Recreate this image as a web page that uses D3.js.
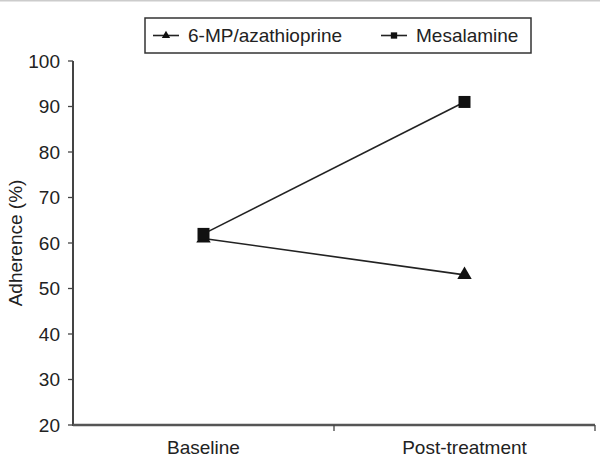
<!DOCTYPE html>
<html><head><meta charset="utf-8">
<script src="https://cdn.jsdelivr.net/npm/d3@7"></script>
<style>body{margin:0;background:#fff;}svg{display:block;font-family:"Liberation Sans",Arial,Helvetica,sans-serif;}</style>
</head><body>
<script>
const categories = ["Baseline", "Post-treatment"];
const azaValues = [61, 53];
const mesaValues = [62, 91];
const seriesNames = ["6-MP/azathioprine", "Mesalamine"];
const yTicks = [20, 30, 40, 50, 60, 70, 80, 90, 100];

const W = 600, H = 457;
const m = {left: 73, right: 5, top: 61, bottom: 32};
const svg = d3.select("body").append("svg").attr("width", W).attr("height", H);

svg.append("line").attr("x1", 0).attr("x2", W).attr("y1", 0.5).attr("y2", 0.5)
  .attr("stroke", "#ccc").attr("stroke-width", 2);

const x = d3.scaleBand().domain(categories).range([m.left, W - m.right]).padding(0);
const y = d3.scaleLinear().domain([20, 100]).range([H - m.bottom, m.top]);
const ink = "#222";
const fs = 19;

// y axis
const ya = svg.append("g").attr("transform", `translate(${m.left},0)`);
ya.append("line").attr("x1", 0).attr("x2", 0).attr("y1", y(20) + 1).attr("y2", y(100)).attr("stroke", "#444").attr("stroke-width", 2);
yTicks.forEach(t => {
  ya.append("line").attr("x1", -5).attr("x2", 0).attr("y1", y(t)).attr("y2", y(t)).attr("stroke", "#444").attr("stroke-width", 1.3);
  ya.append("text").attr("x", -13).attr("y", y(t)).attr("dy", "0.36em").attr("text-anchor", "end")
    .attr("font-size", fs).attr("fill", ink).text(t);
});

// x axis
const xa = svg.append("g");
xa.append("line").attr("x1", m.left).attr("x2", W - m.right).attr("y1", y(20)).attr("y2", y(20)).attr("stroke", "#555").attr("stroke-width", 2.5);
categories.forEach(c => {
  const e = x(c) + x.bandwidth();
  xa.append("line").attr("x1", e).attr("x2", e).attr("y1", y(20)).attr("y2", y(20) + 6).attr("stroke", "#444").attr("stroke-width", 1.3);
  xa.append("text").attr("x", x(c) + x.bandwidth() / 2).attr("y", y(20) + 29).attr("text-anchor", "middle")
    .attr("font-size", fs).attr("fill", ink).text(c);
});

svg.append("text").attr("transform", `translate(22,${(y(20) + y(100)) / 2}) rotate(-90)`)
  .attr("text-anchor", "middle").attr("font-size", fs).attr("fill", ink).text("Adherence (%)");

const cx = c => x(c) + x.bandwidth() / 2;
const line = d3.line().x(d => cx(d.c)).y(d => y(d.v));
const aza = categories.map((c, i) => ({c, v: azaValues[i]}));
const mesa = categories.map((c, i) => ({c, v: mesaValues[i]}));

svg.append("path").datum(aza).attr("d", line).attr("fill", "none").attr("stroke", ink).attr("stroke-width", 1.6);
svg.append("path").datum(mesa).attr("d", line).attr("fill", "none").attr("stroke", ink).attr("stroke-width", 1.6);

const tri = d3.symbol().type(d3.symbolTriangle).size(90);
const sq = d3.symbol().type(d3.symbolSquare).size(144);
svg.selectAll(".tri").data(aza).enter().append("path").attr("d", tri)
  .attr("transform", d => `translate(${cx(d.c)},${y(d.v)})`).attr("fill", "#111");
svg.selectAll(".sq").data(mesa).enter().append("path").attr("d", sq)
  .attr("transform", d => `translate(${cx(d.c)},${y(d.v)})`).attr("fill", "#111");

// legend
const lg = svg.append("g");
lg.append("rect").attr("x", 145).attr("y", 18).attr("width", 386).attr("height", 35)
  .attr("fill", "#fff").attr("stroke", "#333").attr("stroke-width", 1.5);
const legendItems = [{x: 153, name: seriesNames[0], sym: d3.symbol().type(d3.symbolTriangle).size(30)},
                     {x: 381, name: seriesNames[1], sym: d3.symbol().type(d3.symbolSquare).size(40)}];
legendItems.forEach(it => {
  lg.append("line").attr("x1", it.x).attr("x2", it.x + 26).attr("y1", 35.5).attr("y2", 35.5).attr("stroke", ink).attr("stroke-width", 1.6);
  lg.append("path").attr("d", it.sym).attr("transform", `translate(${it.x + 13},35.5)`).attr("fill", "#111");
  lg.append("text").attr("x", it.x + 35).attr("y", 42).attr("font-size", fs).attr("fill", ink).text(it.name);
});
</script>
</body></html>
